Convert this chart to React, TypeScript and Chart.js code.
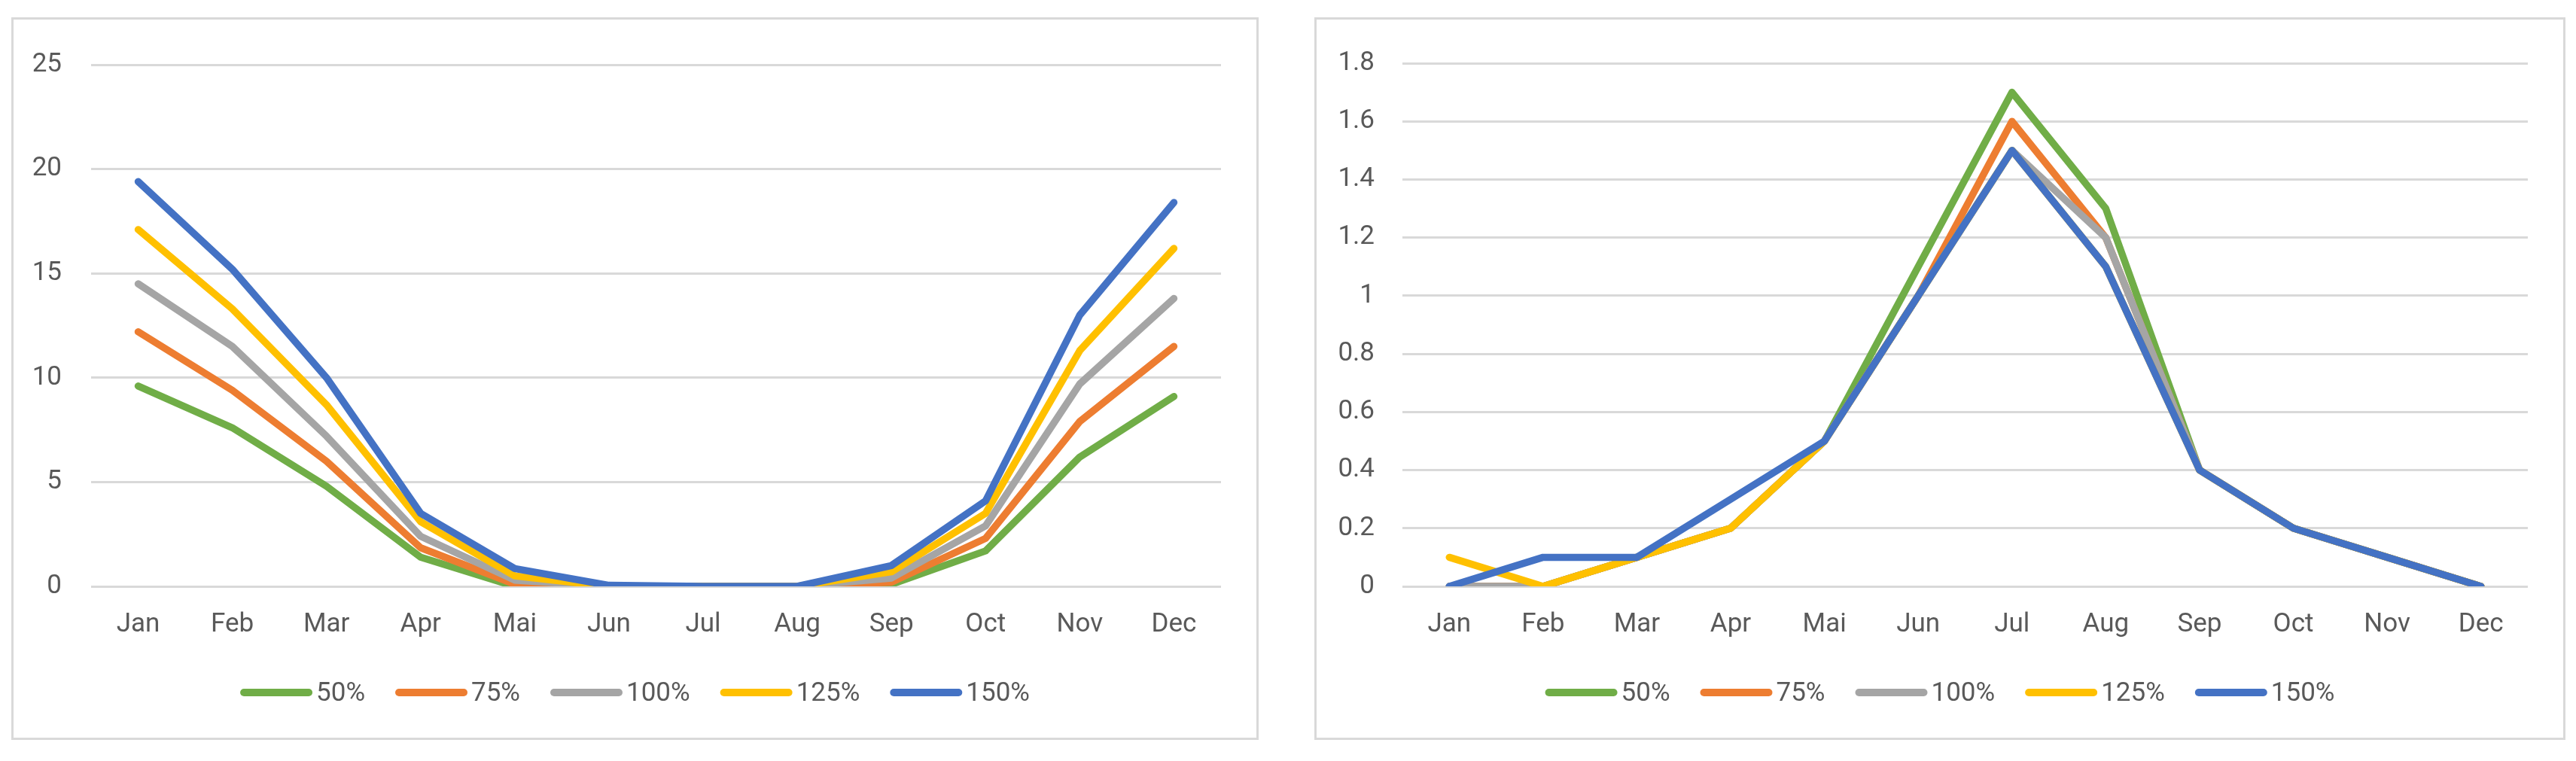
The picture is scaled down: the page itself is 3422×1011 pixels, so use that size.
import { useEffect, useRef } from "react";
import { Chart, ChartConfiguration, registerables } from "chart.js";

Chart.register(...registerables);

const months = ["Jan", "Feb", "Mar", "Apr", "Mai", "Jun", "Jul", "Aug", "Sep", "Oct", "Nov", "Dec"];
const seriesLabels = ["50%", "75%", "100%", "125%", "150%"];
const seriesColors = ["#70AD47", "#ED7D31", "#A5A5A5", "#FFC000", "#4472C4"];

// left chart
const left50 = [9.6, 7.6, 4.8, 1.4, 0, 0, 0, 0, 0.1, 1.7, 6.2, 9.1];
const left75 = [12.2, 9.4, 6.0, 1.85, 0.1, 0, 0, 0, 0.2, 2.3, 7.9, 11.5];
const left100 = [14.5, 11.5, 7.2, 2.4, 0.3, 0, 0, 0, 0.4, 2.9, 9.7, 13.8];
const left125 = [17.1, 13.3, 8.7, 3.1, 0.5, 0, 0, 0, 0.7, 3.5, 11.3, 16.2];
const left150 = [19.4, 15.2, 10.0, 3.5, 0.85, 0.05, 0, 0, 1.0, 4.1, 13.0, 18.4];
const leftTicks = [0, 5, 10, 15, 20, 25];

// right chart
const right50 = [0, 0, 0.1, 0.2, 0.5, 1.1, 1.7, 1.3, 0.4, 0.2, 0.1, 0];
const right75 = [0, 0, 0.1, 0.2, 0.5, 1.0, 1.6, 1.2, 0.4, 0.2, 0.1, 0];
const right100 = [0, 0, 0.1, 0.2, 0.5, 1.0, 1.5, 1.2, 0.4, 0.2, 0.1, 0];
const right125 = [0.1, 0, 0.1, 0.2, 0.5, 1.0, 1.5, 1.1, 0.4, 0.2, 0.1, 0];
const right150 = [0, 0.1, 0.1, 0.3, 0.5, 1.0, 1.5, 1.1, 0.4, 0.2, 0.1, 0];
const rightTicks = [0, 0.2, 0.4, 0.6, 0.8, 1, 1.2, 1.4, 1.6, 1.8];

const FONT = "Roboto, 'Noto Sans', sans-serif";
const FONT_SIZE = 35;
const TEXT_COLOR = "#595959";
const GRID_COLOR = "#d9d9d9";
const LINE_WIDTH = 9.5;

// legend drawn like the Excel one: long line sample, text right next to it
const lineLegend = {
  id: "lineLegend",
  afterDraw(chart: Chart) {
    const { ctx } = chart;
    const sample = 96;
    const textGap = 5;
    const itemGap = 40;
    const y = 894;

    ctx.save();
    ctx.font = `${FONT_SIZE}px ${FONT}`;
    ctx.textBaseline = "middle";
    ctx.textAlign = "left";
    const items = chart.data.datasets.map((ds) => {
      const text = String(ds.label);
      return { text, color: ds.borderColor as string, width: ctx.measureText(text).width };
    });
    const total =
      items.reduce((s, it) => s + sample + textGap + it.width, 0) + itemGap * (items.length - 1);
    let x = (chart.width - total) / 2;
    items.forEach((it) => {
      ctx.strokeStyle = it.color;
      ctx.lineWidth = 10;
      ctx.lineCap = "round";
      ctx.beginPath();
      ctx.moveTo(x + 5, y);
      ctx.lineTo(x + sample - 5, y);
      ctx.stroke();
      x += sample + textGap;
      ctx.fillStyle = TEXT_COLOR;
      ctx.fillText(it.text, x, y + 2);
      x += it.width + itemGap;
    });
    ctx.restore();
  },
};

interface LineChartProps {
  series: number[][];
  ticks: number[];
  yAxisWidth: number;
  tickPadding: number;
}

const LineChart = ({ series, ticks, yAxisWidth, tickPadding }: LineChartProps) => {
  const canvasRef = useRef<HTMLCanvasElement | null>(null);

  useEffect(() => {
    if (!canvasRef.current) return;

    const config: ChartConfiguration<"line"> = {
      type: "line",
      data: {
        labels: months,
        datasets: series.map((data, i) => ({
          label: seriesLabels[i],
          data,
          borderColor: seriesColors[i],
          backgroundColor: seriesColors[i],
          borderWidth: LINE_WIDTH,
          borderJoinStyle: "round",
          borderCapStyle: "round",
          pointRadius: 0,
          tension: 0,
          fill: false,
          order: series.length - i,
        })),
      },
      plugins: [lineLegend],
      options: {
        responsive: true,
        maintainAspectRatio: false,
        animation: false,
        events: [],
        layout: { padding: { top: 46, right: 47, left: 0, bottom: 0 } },
        plugins: {
          legend: { display: false },
          tooltip: { enabled: false },
        },
        scales: {
          x: {
            offset: true,
            grid: { display: false, drawTicks: false },
            border: { display: false },
            ticks: {
              color: TEXT_COLOR,
              font: { family: FONT, size: FONT_SIZE },
              padding: 30,
              maxRotation: 0,
            },
            afterFit: (scale) => {
              scale.height = 201;
            },
          },
          y: {
            min: ticks[0],
            max: ticks[ticks.length - 1],
            grid: { color: GRID_COLOR, lineWidth: 3, drawTicks: false },
            border: { display: false },
            ticks: {
              color: TEXT_COLOR,
              font: { family: FONT, size: FONT_SIZE },
              padding: tickPadding,
              callback: (value) => String(Number(value)),
            },
            afterBuildTicks: (scale) => {
              scale.ticks = ticks.map((value) => ({ value }));
            },
            afterFit: (scale) => {
              scale.width = yAxisWidth;
            },
          },
        },
      },
    };

    const chart = new Chart(canvasRef.current, config);
    return () => {
      chart.destroy();
    };
  }, [series, ticks, yAxisWidth, tickPadding]);

  return <canvas ref={canvasRef} style={{ display: "block" }} />;
};

const panelStyle = (left: number, width: number): React.CSSProperties => ({
  position: "absolute",
  left,
  top: 23,
  width,
  height: 960,
  border: `3px solid ${GRID_COLOR}`,
  boxSizing: "border-box",
  background: "#fff",
});

const leftSeries = [left50, left75, left100, left125, left150];
const rightSeries = [right50, right75, right100, right125, right150];

export default function App() {
  return (
    <div>
      <div style={panelStyle(15, 1657)}>
        <LineChart series={leftSeries} ticks={leftTicks} yAxisWidth={103} tickPadding={39} />
      </div>
      <div style={panelStyle(1746, 1662)}>
        <LineChart series={rightSeries} ticks={rightTicks} yAxisWidth={114} tickPadding={37} />
      </div>
    </div>
  );
}
